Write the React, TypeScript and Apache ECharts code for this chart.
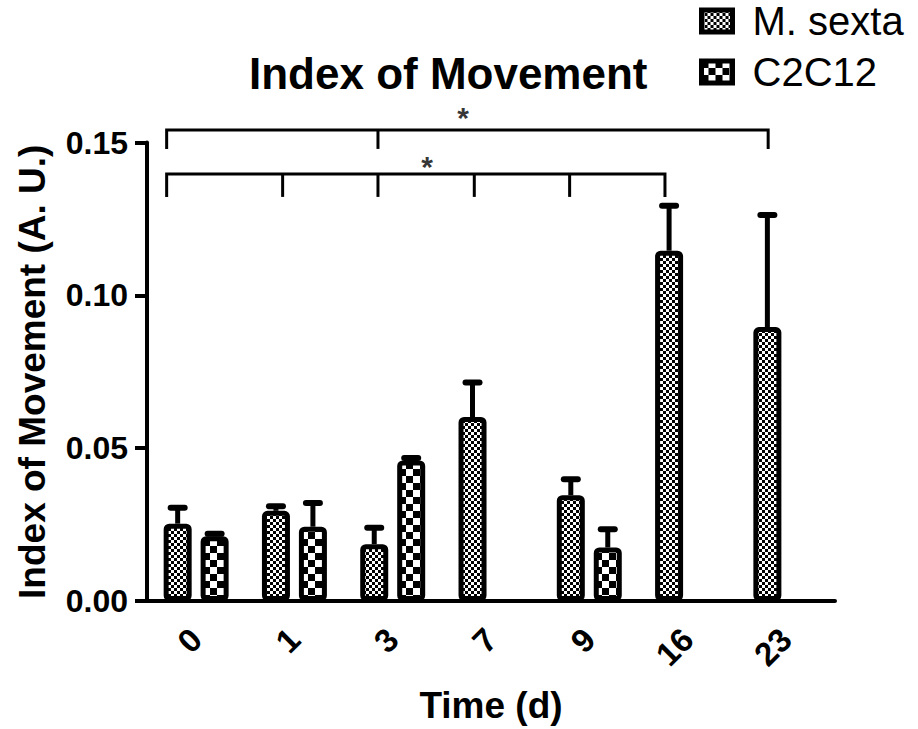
import React, { useEffect, useRef } from "react";
import * as echarts from "echarts";

const categories = ["0", "1", "3", "7", "9", "16", "23"];
const msextaValues = [0.0253, 0.0295, 0.0186, 0.0602, 0.0346, 0.1146, 0.0896];
const msextaErrors = [0.0052, 0.0015, 0.0054, 0.0113, 0.0052, 0.0147, 0.0367];
const c2c12Values: (number | null)[] = [0.0212, 0.0243, 0.046, null, 0.0175, null, null];
const c2c12Errors: (number | null)[] = [0.0008, 0.0078, 0.0008, null, 0.006, null, null];
const yTicks = [0, 0.05, 0.1, 0.15];

// significance brackets, x in category units (category i spans [i, i+1])
const upperBracketEnds = [0.2, 6.32];
const upperBracketTicks = [2.35];
const upperBracketLevels = [0.1541, 0.1479]; // bar line, leg bottom
const lowerBracketEnds = [0.2, 5.27];
const lowerBracketTicks = [1.38, 2.35, 3.33, 4.3];
const lowerBracketLevels = [0.1397, 0.1322];
const starPoints = [
  [3.215, 0.1583],
  [2.85, 0.142],
];

const FONT = "'Liberation Sans', Arial, Helvetica, sans-serif";
const BAR_W = 28;
const BAR_GAP = 0.32;

function checker(size: number) {
  const c = document.createElement("canvas");
  c.width = size * 2;
  c.height = size * 2;
  const ctx = c.getContext("2d")!;
  ctx.fillStyle = "#fff";
  ctx.fillRect(0, 0, size * 2, size * 2);
  ctx.fillStyle = "#000";
  ctx.fillRect(0, 0, size, size);
  ctx.fillRect(size, size, size, size);
  return { image: c.toDataURL(), repeat: "repeat", imageWidth: size * 2, imageHeight: size * 2 };
}

function bracketLines(ends: number[], ticks: number[], levels: number[]) {
  const [top, bottom] = levels;
  const data: any[] = [
    {
      coords: [
        [ends[0], bottom],
        [ends[0], top],
        [ends[1], top],
        [ends[1], bottom],
      ],
    },
  ];
  ticks.forEach((t) => data.push({ coords: [[t, top], [t, bottom]] }));
  return data;
}

export default function App() {
  const ref = useRef<HTMLDivElement>(null);
  useEffect(() => {
    document.body.style.margin = "0";
    const chart = echarts.init(ref.current!, undefined, { renderer: "svg" });
    const fine = checker(3);
    const coarse = checker(7);
    const errData: any[] = [];
    msextaValues.forEach((v, i) => errData.push([i, v, msextaErrors[i], 0]));
    c2c12Values.forEach((v, i) => {
      if (v != null && c2c12Errors[i] != null) errData.push([i, v, c2c12Errors[i], 1]);
    });
    const option: any = {
      animation: false,
      backgroundColor: "#fff",
      textStyle: { fontFamily: FONT },
      title: {
        text: "Index of Movement",
        left: 244,
        top: 46,
        textStyle: { fontFamily: FONT, fontSize: 44, fontWeight: "bold", color: "#000" },
      },
      legend: {
        orient: "vertical",
        left: 694,
        top: -4,
        icon: "rect",
        itemWidth: 31,
        itemHeight: 22,
        itemGap: 11,
        data: ["M. sexta", "C2C12"],
        itemStyle: { borderColor: "#000", borderWidth: 5 },
        textStyle: { fontFamily: FONT, fontSize: 40, color: "#000", padding: [0, 0, 0, 15] },
      },
      grid: { left: 147, top: 142.5, width: 688, height: 459.5 },
      xAxis: [
        {
          type: "category",
          data: categories,
          axisLine: { lineStyle: { color: "#000", width: 4 } },
          axisTick: { alignWithLabel: true, length: 13, lineStyle: { color: "#000", width: 4 } },
          axisLabel: {
            rotate: 45,
            margin: 33,
            fontSize: 33,
            fontWeight: "bold",
            color: "#000",
            fontFamily: FONT,
          },
          name: "Time (d)",
          nameLocation: "middle",
          nameGap: 86,
          nameTextStyle: { fontSize: 37, fontWeight: "bold", color: "#000", fontFamily: FONT },
        },
        { type: "value", min: 0, max: 7, show: false },
      ],
      yAxis: {
        type: "value",
        min: 0,
        max: 0.15,
        interval: 0.05,
        splitLine: { show: false },
        axisLine: { show: true, lineStyle: { color: "#000", width: 4 } },
        axisTick: { show: true, length: 12, lineStyle: { color: "#000", width: 4 } },
        axisLabel: {
          margin: 19,
          fontSize: 32,
          fontWeight: "bold",
          color: "#000",
          fontFamily: FONT,
          formatter: (v: number) => (yTicks.some((t) => Math.abs(t - v) < 1e-9) ? v.toFixed(2) : ""),
        },
        name: "Index of Movement (A. U.)",
        nameLocation: "middle",
        nameGap: 96,
        nameTextStyle: { fontSize: 37, fontWeight: "bold", color: "#000", fontFamily: FONT },
      },
      series: [
        {
          name: "M. sexta",
          type: "bar",
          data: msextaValues,
          barWidth: BAR_W,
          barGap: BAR_GAP * 100 + "%",
          itemStyle: { color: fine, borderColor: "#000", borderWidth: 5, borderRadius: 3 },
        },
        {
          name: "C2C12",
          type: "bar",
          data: c2c12Values,
          barWidth: BAR_W,
          barGap: BAR_GAP * 100 + "%",
          itemStyle: { color: coarse, borderColor: "#000", borderWidth: 5, borderRadius: 3 },
        },
        {
          type: "custom",
          data: errData,
          z: 5,
          silent: true,
          encode: { x: 0, y: 1 },
          renderItem: (params: any, api: any) => {
            const idx = api.value(0);
            const v = api.value(1);
            const e = api.value(2);
            const s = api.value(3);
            const off = (s === 0 ? -1 : 1) * (BAR_W * (1 + BAR_GAP)) / 2;
            const base = api.coord([idx, v]);
            const top = api.coord([idx, v + e]);
            const x = base[0] + off;
            return {
              type: "group",
              children: [
                {
                  type: "line",
                  shape: { x1: x, y1: base[1], x2: x, y2: top[1] },
                  style: { stroke: "#000", lineWidth: 5 },
                },
                {
                  type: "line",
                  shape: { x1: x - 7, y1: top[1], x2: x + 7, y2: top[1] },
                  style: { stroke: "#000", lineWidth: 6, lineCap: "round" },
                },
              ],
            };
          },
        },
        {
          type: "lines",
          coordinateSystem: "cartesian2d",
          xAxisIndex: 1,
          yAxisIndex: 0,
          polyline: true,
          clip: false,
          silent: true,
          lineStyle: { color: "#000", width: 3, opacity: 1 },
          data: [
            ...bracketLines(upperBracketEnds, upperBracketTicks, upperBracketLevels),
            ...bracketLines(lowerBracketEnds, lowerBracketTicks, lowerBracketLevels),
          ],
        },
        {
          type: "scatter",
          xAxisIndex: 1,
          yAxisIndex: 0,
          clip: false,
          silent: true,
          symbolSize: 1,
          itemStyle: { color: "rgba(0,0,0,0)" },
          data: starPoints,
          label: {
            show: true,
            position: "inside",
            formatter: "*",
            fontSize: 30,
            fontWeight: "bold",
            color: "#000",
            fontFamily: FONT,
          },
        },
      ],
    };
    chart.setOption(option);
    return () => chart.dispose();
  }, []);
  return (
    <div
      ref={ref}
      style={{ position: "fixed", left: 0, top: 0, width: 918, height: 729, background: "#fff" }}
    />
  );
}
